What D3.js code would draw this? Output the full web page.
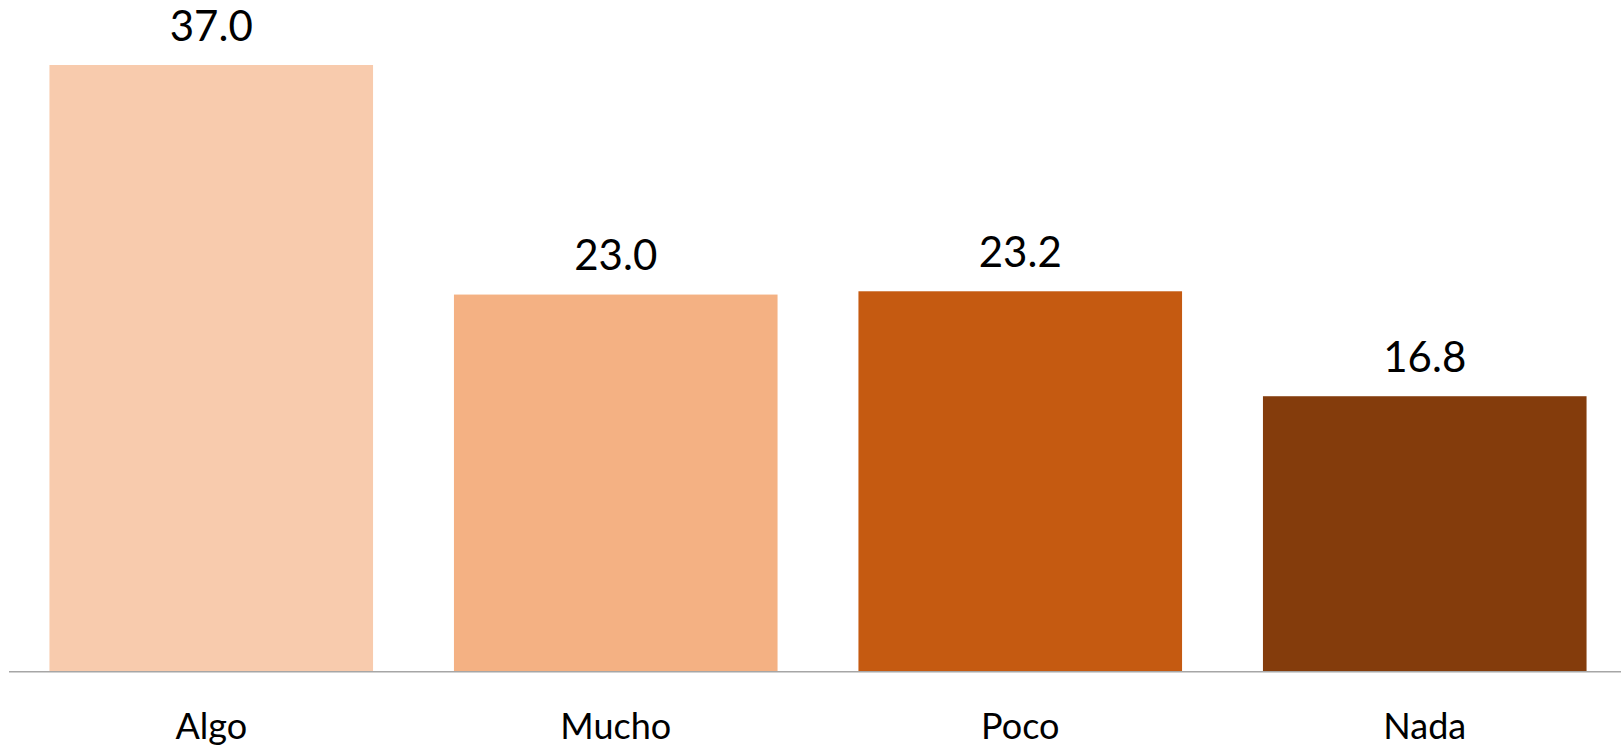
<!DOCTYPE html>
<html>
<head>
<meta charset="utf-8">
<script src="https://cdn.jsdelivr.net/npm/d3@7"></script>
<style>
  html, body { margin: 0; padding: 0; background: #ffffff; }
  svg { display: block; }
</style>
</head>
<body>
<svg id="chart" width="1621" height="748"></svg>
<script>
const categories = ["Algo", "Mucho", "Poco", "Nada"];
const values = [37.0, 23.0, 23.2, 16.8];
const colors = ["#F8CBAD", "#F4B183", "#C55A11", "#843C0C"];

const W = 1621, H = 748;
const baseline = 671.7;
const svg = d3.select("#chart");

const x = d3.scaleBand()
  .domain(categories)
  .range([9, 1627])
  .paddingInner(0.2)
  .paddingOuter(0.1);

const y = d3.scaleLinear()
  .domain([0, 37])
  .range([baseline, 65]);

svg.selectAll("rect.bar")
  .data(categories)
  .enter().append("rect")
  .attr("class", "bar")
  .attr("x", d => x(d))
  .attr("width", x.bandwidth())
  .attr("y", (d, i) => y(values[i]))
  .attr("height", (d, i) => baseline - y(values[i]))
  .attr("fill", (d, i) => colors[i]);

svg.append("line")
  .attr("x1", 9).attr("x2", W)
  .attr("y1", baseline).attr("y2", baseline)
  .attr("stroke", "#a6a6a6")
  .attr("stroke-width", 1.5);

svg.selectAll("text.val")
  .data(categories)
  .enter().append("text")
  .attr("class", "val")
  .attr("x", d => x(d) + x.bandwidth() / 2)
  .attr("y", (d, i) => y(values[i]) - 24.5)
  .attr("text-anchor", "middle")
  .attr("font-family", "Lato, 'Open Sans', sans-serif")
  .attr("font-size", 42)
  .attr("fill", "#000")
  .text((d, i) => values[i].toFixed(1));

svg.selectAll("text.cat")
  .data(categories)
  .enter().append("text")
  .attr("class", "cat")
  .attr("x", d => x(d) + x.bandwidth() / 2)
  .attr("y", 739)
  .attr("text-anchor", "middle")
  .attr("font-family", "Lato, 'Open Sans', sans-serif")
  .attr("font-size", 36)
  .attr("fill", "#000")
  .text(d => d);
</script>
</body>
</html>
